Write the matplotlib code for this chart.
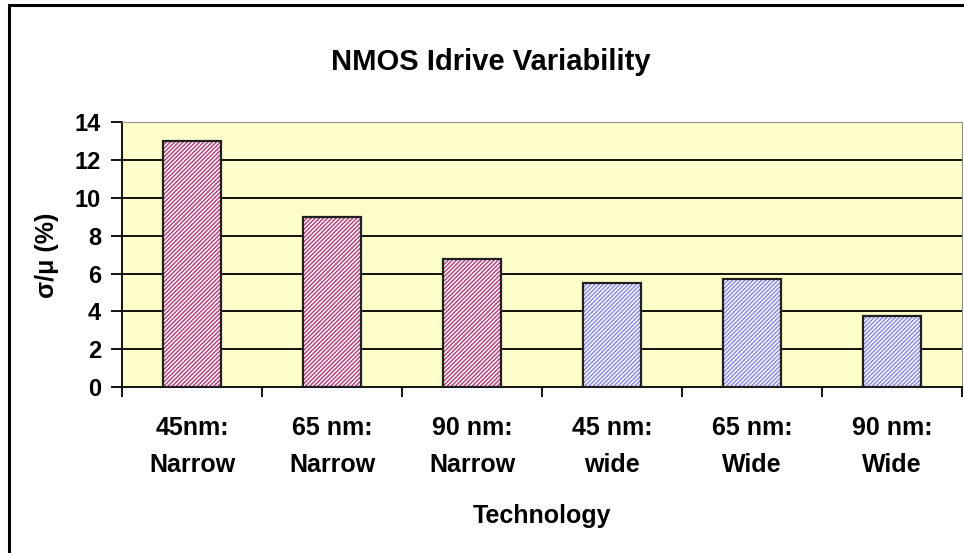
import matplotlib
matplotlib.use('Agg')
import matplotlib.pyplot as plt
from matplotlib.patches import Rectangle
import numpy as np

plt.rcParams['font.family'] = ['Liberation Sans', 'DejaVu Sans']
plt.rcParams['font.weight'] = 'bold'
plt.rcParams['hatch.linewidth'] = 1.1

categories = ['45nm:\nNarrow', '65 nm:\nNarrow', '90 nm:\nNarrow',
              '45 nm:\nwide', '65 nm:\nWide', '90 nm:\nWide']
sigma_mu = [13.0, 9.0, 6.75, 5.5, 5.7, 3.75]
narrow = [True, True, True, False, False, False]

fig = plt.figure(figsize=(9.64, 5.53), dpi=100)
ax = fig.add_axes([0.1266, 0.3002, 0.8714, 0.4783])
ax.set_facecolor('#FFFFCC')

x = np.arange(len(categories))
for xi, v, nw in zip(x, sigma_mu, narrow):
    hc = '#B84480' if nw else '#8C8CE6'
    ax.bar(xi, v, width=0.41, color='white', edgecolor=hc, hatch='////////',
           linewidth=0, zorder=3)
    ax.bar(xi, v, width=0.41, fill=False, edgecolor='#202020', linewidth=1.6, zorder=4)

ax.set_xlim(-0.5, len(categories) - 0.5)
ax.set_ylim(0, 14)
ax.set_yticks(range(0, 15, 2))
for yv in range(2, 14, 2):
    ax.axhline(yv, color='black', linewidth=1.3, zorder=1)

ax.set_xticks(x)
ax.set_xticklabels(categories, fontsize=18, fontweight='bold', linespacing=1.65)
ax.set_xticks(np.arange(-0.5, len(categories)), minor=True)
ax.tick_params(axis='x', which='major', length=0, pad=21)
ax.tick_params(axis='x', which='minor', length=7, width=1.3, direction='out')
ax.tick_params(axis='y', length=8, width=1.3, direction='out', pad=7, labelsize=17)
for lab in ax.get_yticklabels():
    lab.set_fontweight('bold')

ax.spines['left'].set_color('black')
ax.spines['bottom'].set_color('black')
ax.spines['left'].set_linewidth(1.3)
ax.spines['bottom'].set_linewidth(1.3)
ax.spines['top'].set_color('#909090')
ax.spines['right'].set_color('#909090')

fig.text(0.509, 0.888, 'NMOS Idrive Variability', ha='center', va='center',
         fontsize=21, fontweight='bold')
fig.text(0.049, 0.539, 'σ/μ (%)', ha='center', va='center', rotation=90,
         fontsize=18, fontweight='bold')
fig.text(0.5625, 0.067, 'Technology', ha='center', va='center',
         fontsize=18, fontweight='bold')

fig.patches.append(Rectangle((9 / 964, -0.05), 1.1, 1 - 5 / 553 + 0.05,
                             transform=fig.transFigure, fill=False,
                             edgecolor='black', linewidth=2.2, zorder=0))

fig.savefig('out.png', dpi=100)
